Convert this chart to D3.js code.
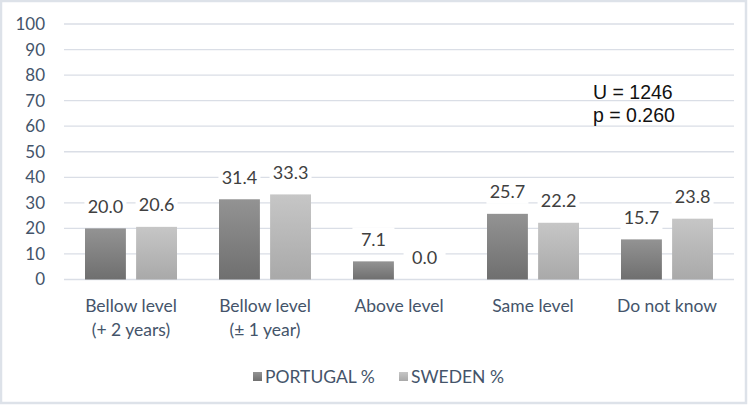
<!DOCTYPE html>
<meta charset="utf-8">
<style>
  body { margin: 0; background: #fff; }
</style>
<script src="https://d3js.org/d3.v7.min.js"></script>
<div id="chart"></div>
<script>
// data
const categories = [["Bellow level", "(+ 2 years)"], ["Bellow level", "(\u00b1 1 year)"], ["Above level"], ["Same level"], ["Do not know"]];
const seriesNames = ["PORTUGAL %", "SWEDEN %"];
const portugal = [20.0, 31.4, 7.1, 25.7, 15.7];
const sweden = [20.6, 33.3, 0.0, 22.2, 23.8];
const yTicks = [0, 10, 20, 30, 40, 50, 60, 70, 80, 90, 100];
const notes = ["U = 1246", "p = 0.260"];

const W = 750, H = 407;
const margin = {top: 24, right: 16, bottom: 127, left: 64};

const svg = d3.select("#chart").append("svg")
    .attr("width", W).attr("height", H);

// outer frame
svg.append("rect").attr("x", 1).attr("y", 1).attr("width", W - 5).attr("height", H - 5)
    .attr("fill", "#fff").attr("stroke", "#dde2e9").attr("stroke-width", 2.5);

const defs = svg.append("defs");
const grads = [["gDark", "#939393", "#6f6f6f"], ["gLight", "#c6c6c6", "#a9a9a9"]];
grads.forEach(function (g) {
  const lg = defs.append("linearGradient").attr("id", g[0])
      .attr("x1", 0).attr("y1", 0).attr("x2", 0).attr("y2", 1);
  lg.append("stop").attr("offset", "0%").attr("stop-color", g[1]);
  lg.append("stop").attr("offset", "100%").attr("stop-color", g[2]);
});

const x = d3.scaleBand().domain(d3.range(categories.length))
    .range([margin.left, W - margin.right]);
const y = d3.scaleLinear().domain([0, 100]).range([279.5, margin.top]);

// two bars in each category, with a small gap
const x1 = d3.scaleBand().domain([0, 1]).range([21, x.bandwidth() - 21])
    .paddingInner(0.2).paddingOuter(0);

// gridlines
svg.append("g").selectAll("line").data(yTicks).enter().append("line")
    .attr("x1", margin.left).attr("x2", W - margin.right)
    .attr("y1", d => y(d)).attr("y2", d => y(d))
    .attr("stroke", "#dadee6").attr("stroke-width", 1.3);

// y tick labels
svg.append("g").selectAll("text").data(yTicks).enter().append("text")
    .attr("x", 45).attr("y", d => y(d)).attr("dy", "0.35em")
    .attr("text-anchor", "end")
    .attr("font-family", "Lato").attr("font-size", "17px")
    .attr("fill", "#44546a")
    .text(d => d);

const series = [portugal, sweden];
const fills = ["url(#gDark)", "url(#gLight)"];

series.forEach(function (vals, s) {
  svg.append("g").selectAll("rect").data(vals).enter().append("rect")
      .attr("x", (d, i) => x(i) + x1(s))
      .attr("width", x1.bandwidth())
      .attr("y", d => y(d))
      .attr("height", d => y(0) - y(d))
      .attr("fill", fills[s]);
});

// value labels: white boxes first, then the numbers on top
const labelPos = (d, i, s) => "translate(" + (x(i) + x1(s) + x1.bandwidth() / 2) + "," + (y(d) - 22) + ")";
series.forEach(function (vals, s) {
  svg.append("g").selectAll("rect").data(vals).enter().append("rect")
      .attr("transform", (d, i) => labelPos(d, i, s))
      .attr("x", -21).attr("y", -12).attr("width", 42).attr("height", 24)
      .attr("fill", "#fff");
});
series.forEach(function (vals, s) {
  svg.append("g").selectAll("text").data(vals).enter().append("text")
      .attr("transform", (d, i) => labelPos(d, i, s))
      .attr("text-anchor", "middle").attr("dy", "0.35em")
      .attr("font-family", "Lato").attr("font-size", "18px")
      .attr("fill", "#404040")
      .text(d => d.toFixed(1));
});

// category labels
const cat = svg.append("g").selectAll("text").data(categories).enter().append("text")
    .attr("x", (d, i) => x(i) + x.bandwidth() / 2)
    .attr("y", 306)
    .attr("text-anchor", "middle")
    .attr("font-family", "Lato").attr("font-size", "17.5px")
    .attr("fill", "#44546a");
cat.each(function (d) {
  const t = d3.select(this);
  d.forEach(function (line, k) {
    t.append("tspan").attr("x", t.attr("x")).attr("dy", k === 0 ? "0.35em" : "24px").text(line);
  });
});

// legend
const legendX = [253, 399];
seriesNames.forEach(function (name, s) {
  svg.append("rect").attr("x", legendX[s]).attr("y", 372).attr("width", 9).attr("height", 9)
      .attr("fill", fills[s]);
  svg.append("text").attr("x", legendX[s] + 12).attr("y", 376.5).attr("dy", "0.35em")
      .attr("font-family", "Lato").attr("font-size", "17.5px")
      .attr("fill", "#44546a")
      .text(name);
});

// test statistics
svg.append("g").selectAll("text").data(notes).enter().append("text")
    .attr("x", 593).attr("y", (d, i) => 92 + i * 23).attr("dy", "0.35em")
    .attr("font-family", "Liberation Sans").attr("font-size", "19.5px")
    .attr("fill", "#111")
    .text(d => d);
</script>
